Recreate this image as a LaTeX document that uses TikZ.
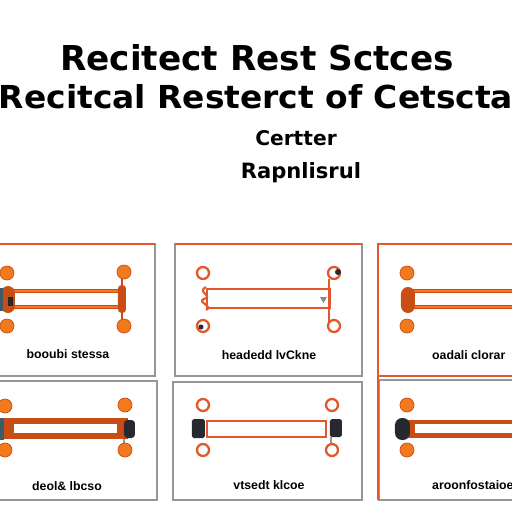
\documentclass[tikz,border=0pt]{standalone}
\usepackage{fontspec}
\setmainfont{Liberation Sans}
\newfontfamily\headfont{DejaVu Sans}
\usetikzlibrary{positioning}
\definecolor{tabOrange}{RGB}{242,122,28}
\definecolor{tabOrangeDark}{RGB}{200,78,22}
\definecolor{tabRed}{RGB}{226,88,42}
\definecolor{tabGray}{RGB}{150,150,150}
\definecolor{capDark}{RGB}{38,42,48}
\definecolor{capTeal}{RGB}{62,92,104}

\tikzset{
  panel/.style={draw=tabGray, line width=0.8pt},
  dot/.style={fill=tabOrange, draw=tabOrangeDark, line width=0.4pt},
  ring/.style={draw=tabRed, line width=1.3pt, fill=white},
  rail/.style={draw=tabOrangeDark, double=tabOrange, double distance=1.1pt, line width=0.6pt},
  caption/.style={font=\bfseries\fontsize{7}{8}\selectfont, anchor=base}
}

\begin{document}
\begin{tikzpicture}[x=0.02cm,y=-0.02cm]
\useasboundingbox (0,0) rectangle (512,512);
\fill[white] (0,0) rectangle (512,512);
\clip (0,0) rectangle (512,512);

% headings
\node[font=\headfont\bfseries\fontsize{19.5}{24}\selectfont, anchor=base] (head1) at (257,70) {Recitect Rest Sctces};
\node[font=\headfont\bfseries\fontsize{18}{22}\selectfont, anchor=base, xscale=1.04] (head2) at (256,108) {Recitcal Resterct of Cetscta};
\node[font=\headfont\bfseries\fontsize{11.5}{14}\selectfont, anchor=base] (sub1) at (296,145) {Certter};
\node[font=\headfont\bfseries\fontsize{12}{14}\selectfont, anchor=base] (sub2) at (301,178) {Rapnlisrul};

% panel frames
\draw[panel] (-5,244) rectangle (155,376);
\draw[panel] (175,244) rectangle (362,376);
\draw[panel] (378,244) rectangle (520,376);
\draw[panel] (-5,381) rectangle (157,500);
\draw[panel] (173,382) rectangle (362,500);
\draw[panel] (379,380) rectangle (520,500);
\draw[tabRed, line width=1.3pt] (-5,244)--(155,244);
\draw[tabRed, line width=1.3pt] (175,244)--(362,244);
\draw[tabRed, line width=1.3pt] (378,500)--(378,244)--(520,244);
\draw[tabRed, line width=1.3pt] (378,376)--(520,376);

% top left: double rail, solid ends
\draw[tabOrangeDark, line width=0.6pt] (122,275)--(122,325);
\draw[rail] (12,291)--(120,291);
\draw[rail] (12,307)--(120,307);
\fill[tabOrangeDark, rounded corners=4pt] (1,286) rectangle (15,313);
\fill[capTeal] (0,288) rectangle (3,311);
\fill[capDark] (8,297) rectangle (13,306);
\fill[tabOrangeDark, rounded corners=2pt] (118,285) rectangle (126,313);
\foreach \cx/\cy in {7/273,124/272,7/326,124/326}
  \draw[dot] (\cx,\cy) circle (7);
\node[caption] (cap1) at (68,358) {booubi stessa};

% top middle: open frame with spring end
\draw[tabRed, line width=1.3pt] (207,289) rectangle (330,308);
\draw[tabRed, line width=1.3pt] (329,279)--(329,322);
\draw[tabRed, line width=1.2pt] (206,287) .. controls (196,292) and (214,296) .. (204,299)
  .. controls (196,302) and (214,306) .. (206,310);
\fill[capTeal!70] (320,297)--(327,297)--(323.5,303)--cycle;
\foreach \cx/\cy in {203/273,334/273,203/326,334/326}
  \draw[ring] (\cx,\cy) circle (6);
\fill[capDark] (338,272) circle (3);
\fill[capDark] (201,327) circle (2.5);
\node[caption] (cap2) at (269,359) {headedd lvCkne};

% top right: rail running off the edge
\draw[rail] (412,291)--(520,291);
\draw[rail] (412,307)--(520,307);
\fill[tabOrangeDark, rounded corners=4pt] (401,287) rectangle (415,313);
\foreach \cy in {273,326}
  \draw[dot] (407,\cy) circle (7);
\node[caption, anchor=base west] (cap3) at (426,359) {oadali clorar};

% bottom left: filled bar
\draw[tabGray, line width=0.6pt] (124,438)--(124,446);
\fill[tabOrangeDark] (0,418) rectangle (128,439);
\fill[white] (14,424) rectangle (117,433);
\fill[capDark, rounded corners=2pt] (124,420) rectangle (135,438);
\fill[capTeal] (-5,418) rectangle (4,440);
\foreach \cx/\cy in {5/406,125/405,5/450,125/450}
  \draw[dot] (\cx,\cy) circle (7);
\node[caption] (cap4) at (67,490) {deol\& lbcso};

% bottom middle: outlined bar, black ends
\draw[tabGray, line width=0.6pt] (331,437)--(331,445);
\draw[tabRed, line width=1.4pt] (207,421) rectangle (326,437);
\fill[capDark, rounded corners=1pt] (192,419) rectangle (205,438);
\fill[capDark, rounded corners=1pt] (330,419) rectangle (342,437);
\foreach \cx/\cy in {203/405,332/405,203/450,332/450}
  \draw[ring] (\cx,\cy) circle (6);
\node[caption] (cap5) at (269,489) {vtsedt klcoe};

% bottom right: bar running off the edge
\fill[tabOrangeDark] (408,420) rectangle (520,438);
\fill[white] (415,424) rectangle (520,433);
\fill[capDark, rounded corners=4pt] (395,418) rectangle (410,440);
\foreach \cy in {405,450}
  \draw[dot] (407,\cy) circle (7);
\node[caption, anchor=base west] (cap6) at (426,489) {aroonfostaioe};
\end{tikzpicture}
\end{document}
